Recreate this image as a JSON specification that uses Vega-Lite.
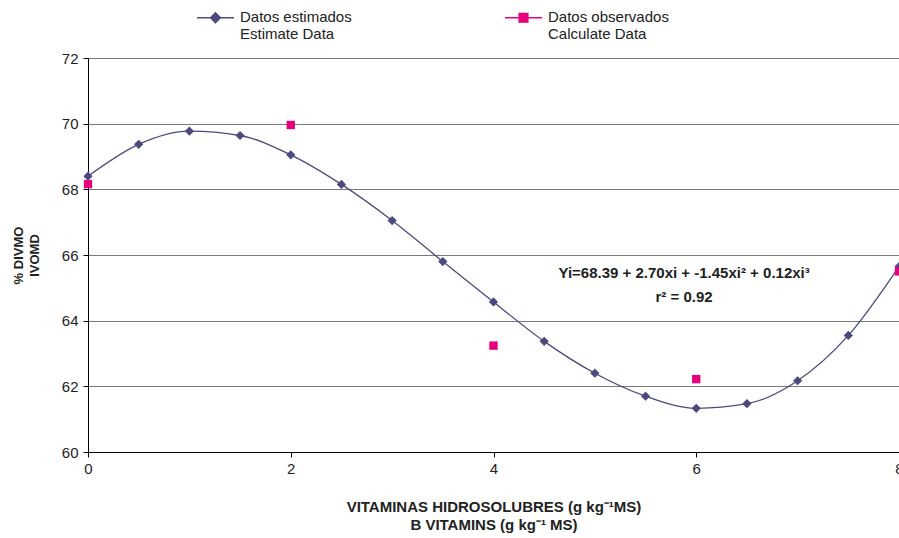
{
  "$schema": "https://vega.github.io/schema/vega-lite/v6.json",
  "autosize": {"type": "none"},
  "padding": {"left": 88, "top": 58, "right": 0, "bottom": 86},
  "width": 811,
  "height": 394,
  "background": "white",
  "config": {
    "font": "Liberation Sans",
    "view": {"stroke": null},
    "axis": {"labelFont": "Liberation Sans", "titleFont": "Liberation Sans", "labelColor": "#222", "titleColor": "#222"}
  },
  "datasets": {
    "pts": [
      {"x": 0, "y": 68.4, "series": "Datos estimados"},
      {"x": 0.5, "y": 69.37, "series": "Datos estimados"},
      {"x": 1, "y": 69.77, "series": "Datos estimados"},
      {"x": 1.5, "y": 69.64, "series": "Datos estimados"},
      {"x": 2, "y": 69.05, "series": "Datos estimados"},
      {"x": 2.5, "y": 68.15, "series": "Datos estimados"},
      {"x": 3, "y": 67.05, "series": "Datos estimados"},
      {"x": 3.5, "y": 65.8, "series": "Datos estimados"},
      {"x": 4, "y": 64.57, "series": "Datos estimados"},
      {"x": 4.5, "y": 63.37, "series": "Datos estimados"},
      {"x": 5, "y": 62.4, "series": "Datos estimados"},
      {"x": 5.5, "y": 61.7, "series": "Datos estimados"},
      {"x": 6, "y": 61.33, "series": "Datos estimados"},
      {"x": 6.5, "y": 61.47, "series": "Datos estimados"},
      {"x": 7, "y": 62.17, "series": "Datos estimados"},
      {"x": 7.5, "y": 63.55, "series": "Datos estimados"},
      {"x": 8, "y": 65.65, "series": "Datos estimados"},
      {"x": 0, "y": 68.16, "series": "Datos observados"},
      {"x": 2, "y": 69.96, "series": "Datos observados"},
      {"x": 4, "y": 63.24, "series": "Datos observados"},
      {"x": 6, "y": 62.22, "series": "Datos observados"},
      {"x": 8, "y": 65.5, "series": "Datos observados"}
    ],
    "note": [
      {"x": 5.88, "y": 65.45, "label": ["Yi=68.39 + 2.70xi + -1.45xi² + 0.12xi³", "r² = 0.92"]}
    ]
  },
  "layer": [
    {
      "data": {"name": "pts"},
      "transform": [{"filter": "datum.series === 'Datos estimados'"}],
      "mark": {"type": "line", "interpolate": "monotone", "strokeWidth": 1.3, "clip": false},
      "encoding": {
        "x": {"field": "x", "type": "quantitative", "scale": {"domain": [0, 8], "nice": false, "zero": false},
          "axis": {"values": [0, 2, 4, 6, 8], "format": "d", "grid": false, "labelFontSize": 15, "labelFlush": false, "labelPadding": 4,
            "domainColor": "#000", "tickColor": "#000", "tickSize": 5, "labelColor": "#222",
            "title": ["VITAMINAS HIDROSOLUBRES (g kg⁻¹MS)", "B VITAMINS (g kg⁻¹ MS)"],
            "titleFontSize": 15, "titleFontWeight": "bold", "titleLineHeight": 18, "titlePadding": 23}},
        "y": {"field": "y", "type": "quantitative", "scale": {"domain": [60, 72], "nice": false, "zero": false},
          "axis": {"values": [60, 62, 64, 66, 68, 70, 72], "format": "d", "grid": true, "gridColor": "#7a7a7a", "gridWidth": 1.2,
            "labelFontSize": 15, "labelPadding": 5, "domainColor": "#000", "tickColor": "#000", "tickSize": 5,
            "title": ["% DIVMO", "IVOMD"], "titleFontSize": 13, "titleFontWeight": "bold", "titleLineHeight": 16, "titlePadding": 20}},
        "color": {"field": "series", "type": "nominal",
          "scale": {"domain": ["Datos estimados", "Datos observados"], "range": ["#4b4a7f", "#e6007e"]},
          "legend": {
            "orient": "none", "legendX": 108, "legendY": -60, "direction": "horizontal", "title": null,
            "padding": 0, "columnPadding": 150, "symbolSize": 1369, "symbolStrokeWidth": 1.3,
            "labelFontSize": 15, "labelFont": "Liberation Sans", "labelColor": "#222", "labelLimit": 300, "labelOffset": 5,
            "labelLineHeight": 18, "labelBaseline": "top",
            "labelExpr": "datum.label === 'Datos estimados' ? ['Datos estimados', 'Estimate Data'] : ['Datos observados', 'Calculate Data']",
            "encode": {
              "labels": {"update": {"dy": {"value": -8}}},
              "symbols": {"update": {
                "shape": {"signal": "datum.value === 'Datos estimados' ? 'M-1,0H1M0,-0.27L0.27,0L0,0.27L-0.27,0Z' : 'M-1,0H1M-0.24,-0.24H0.24V0.24H-0.24Z'"},
                "size": {"value": 1369},
                "fill": {"signal": "scale('color', datum.value)"},
                "stroke": {"signal": "scale('color', datum.value)"},
                "strokeWidth": {"value": 1.3}
              }}
            }
          }}
      }
    },
    {
      "data": {"name": "pts"},
      "transform": [{"filter": "datum.series === 'Datos estimados'"}],
      "mark": {"type": "point", "shape": "diamond", "size": 85, "filled": true, "opacity": 1, "clip": false},
      "encoding": {
        "x": {"field": "x", "type": "quantitative"},
        "y": {"field": "y", "type": "quantitative"},
        "color": {"field": "series", "type": "nominal"}
      }
    },
    {
      "data": {"name": "pts"},
      "transform": [{"filter": "datum.series === 'Datos observados'"}],
      "mark": {"type": "point", "shape": "square", "size": 70, "filled": true, "opacity": 1, "clip": false},
      "encoding": {
        "x": {"field": "x", "type": "quantitative"},
        "y": {"field": "y", "type": "quantitative"},
        "color": {"field": "series", "type": "nominal"}
      }
    },
    {
      "data": {"name": "note"},
      "mark": {"type": "text", "fontSize": 15, "fontWeight": "bold", "font": "Liberation Sans", "color": "#222", "lineHeight": 24, "align": "center", "baseline": "middle"},
      "encoding": {
        "x": {"field": "x", "type": "quantitative"},
        "y": {"field": "y", "type": "quantitative"},
        "text": {"field": "label"}
      }
    }
  ]
}
